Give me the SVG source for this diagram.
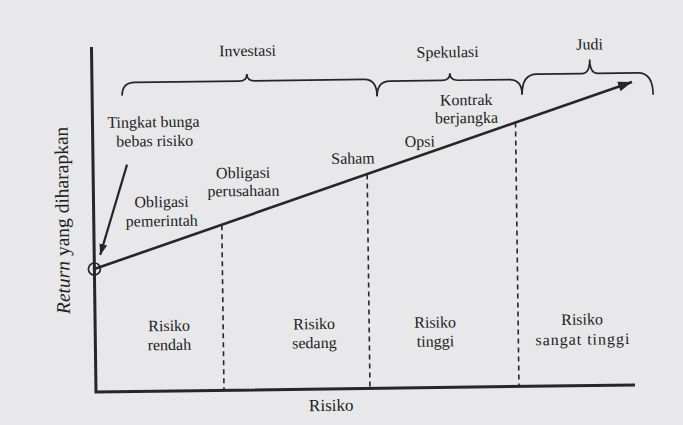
<svg xmlns="http://www.w3.org/2000/svg" width="683" height="425" viewBox="0 0 683 425">
<defs>
<style>
text{font-family:"Liberation Serif","Times New Roman",serif;font-size:16px;fill:#222;text-anchor:middle}
text.axl{font-size:17px}
text.yl{font-size:19.5px}
.ax{stroke:#262626;stroke-width:3;fill:none}
.ln{stroke:#262626;stroke-width:2.6;fill:none}
.dash{stroke:#262626;stroke-width:1.6;stroke-dasharray:5 4;fill:none}
.br{stroke:#262626;stroke-width:1.7;fill:none}
</style>
<marker id="ah" markerUnits="userSpaceOnUse" markerWidth="16" markerHeight="12" refX="14" refY="5" orient="auto">
<path d="M0,0 L14,5 L0,10 Z" fill="#262626"/>
</marker>
<marker id="ah2" markerUnits="userSpaceOnUse" markerWidth="14" markerHeight="10" refX="11" refY="4" orient="auto">
<path d="M0,0 L11,4 L0,8 Z" fill="#262626"/>
</marker>
</defs>
<rect width="683" height="425" fill="#e8e8ea"/>
<g transform="rotate(-0.75 96 392)">
<g id="axes">
<path class="ax" d="M96,47 L96,392 L635,392"/>
<text class="axl" x="331" y="414">Risiko</text>
<text class="yl" transform="translate(71,220) rotate(-90)"><tspan font-style="italic">Return</tspan> yang diharapkan</text>
</g>
<g id="connectors">
<line class="ln" x1="96" y1="269" x2="636" y2="89" marker-end="url(#ah)"/>
<line class="ln" x1="130" y1="165" x2="102" y2="255" style="stroke-width:2.2" marker-end="url(#ah2)"/>
<line class="dash" x1="224" y1="227" x2="224" y2="391"/>
<line class="dash" x1="370" y1="178" x2="370" y2="391"/>
<line class="dash" x1="519" y1="128" x2="519" y2="391"/>
</g>
<g id="rf">
<circle cx="96" cy="269" r="6" class="br"/>
</g>
<g id="investasi">
<path class="br" d="M126,96 Q126,83 139,83 L243,83 Q251,83 251,76 Q251,83 259,83 L368,83 Q381,83 381,100"/>
<text x="252" y="58">Investasi</text>
</g>
<g id="spekulasi">
<path class="br" d="M381,100 Q381,85 394,85 L446,85 Q454,85 454,78 Q454,85 462,85 L513,85 Q526,85 526,100"/>
<text x="452" y="62">Spekulasi</text>
</g>
<g id="judi">
<path class="br" d="M526,100 Q526,80 541,80 L586,80 Q594,80 594,66 Q594,80 602,80 L642,80 Q657,80 657,102"/>
<text x="594" y="56">Judi</text>
</g>
<g id="tingkat-bunga">
<text x="157" y="128">Tingkat bunga</text>
<text x="158" y="147">bebas risiko</text>
</g>
<g id="obligasi-pemerintah">
<text x="164" y="208">Obligasi</text>
<text x="164" y="227">pemerintah</text>
</g>
<g id="obligasi-perusahaan">
<text x="246" y="180">Obligasi</text>
<text x="246" y="198">perusahaan</text>
</g>
<g id="saham"><text x="356" y="167">Saham</text></g>
<g id="opsi"><text x="423" y="151">Opsi</text></g>
<g id="kontrak">
<text x="470" y="110">Kontrak</text>
<text x="470" y="128">berjangka</text>
</g>
<g id="risiko-rendah">
<text x="170" y="332">Risiko</text>
<text x="170" y="351">rendah</text>
</g>
<g id="risiko-sedang">
<text x="315" y="332">Risiko</text>
<text x="315" y="351">sedang</text>
</g>
<g id="risiko-tinggi">
<text x="436" y="332">Risiko</text>
<text x="436" y="351">tinggi</text>
</g>
<g id="risiko-sangat-tinggi">
<text x="583" y="331">Risiko</text>
<text x="583" y="351" textLength="94" lengthAdjust="spacing">sangat tinggi</text>
</g>
</g>
</svg>
